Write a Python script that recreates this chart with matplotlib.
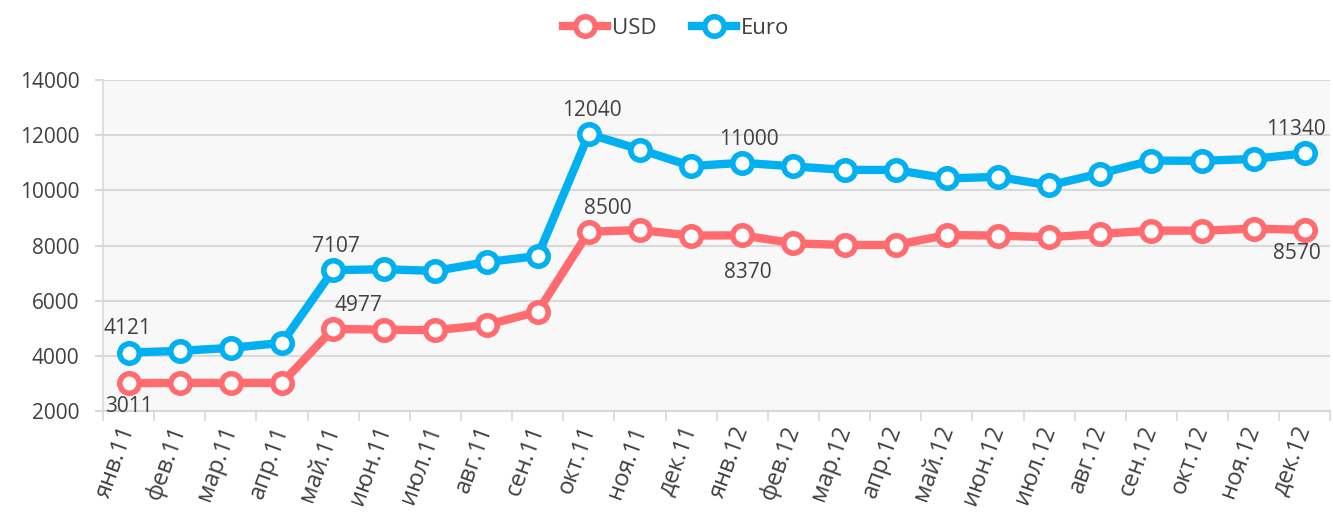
import numpy as np
import matplotlib
matplotlib.use('Agg')
import matplotlib.pyplot as plt
import matplotlib.transforms as mtransforms

plt.rcParams['font.family'] = ['Open Sans', 'DejaVu Sans']

months = ['янв.11', 'фев.11', 'мар.11', 'апр.11', 'май.11', 'июн.11', 'июл.11', 'авг.11',
          'сен.11', 'окт.11', 'ноя.11', 'дек.11', 'янв.12', 'фев.12', 'мар.12', 'апр.12',
          'май.12', 'июн.12', 'июл.12', 'авг.12', 'сен.12', 'окт.12', 'ноя.12', 'дек.12']
usd = [3011, 3020, 3020, 3020, 4977, 4950, 4930, 5120, 5600, 8500, 8560, 8360,
       8370, 8080, 8020, 8020, 8380, 8360, 8300, 8420, 8540, 8540, 8610, 8570]
euro = [4121, 4180, 4290, 4470, 7107, 7140, 7080, 7400, 7620, 12040, 11480, 10880,
        11000, 10870, 10740, 10740, 10430, 10490, 10180, 10610, 11080, 11070, 11140, 11340]

# labelled points: index -> (dx, dy) offset in points
usd_labels = {0: (0, -17), 4: (18, 17), 9: (14, 17), 12: (4, -27), 23: (-6, -17)}
euro_labels = {0: (-1, 17), 4: (2, 17), 9: (2, 17), 12: (5, 17), 23: (-6, 17)}

red = '#ff6b6f'
blue = '#00b0f0'
txt = '#404040'
fs = 15

fig = plt.figure(figsize=(13.33, 5.22), dpi=100)
ax = fig.add_axes([0.0773, 0.2126, 0.9207, 0.6341])
ax.set_facecolor('#f8f8f8')

x = np.arange(len(months))
ax.plot(x, usd, color=red, lw=6, marker='o', ms=14, mfc='white', mec=red, mew=4,
        label='USD', solid_joinstyle='round', zorder=3)
ax.plot(x, euro, color=blue, lw=6, marker='o', ms=14, mfc='white', mec=blue, mew=4,
        label='Euro', solid_joinstyle='round', zorder=3)

for i, (dx, dy) in usd_labels.items():
    ax.annotate(str(usd[i]), (x[i], usd[i]), xytext=(dx, dy), textcoords='offset points',
                ha='center', va='center', fontsize=fs, color=txt, zorder=4)
for i, (dx, dy) in euro_labels.items():
    ax.annotate(str(euro[i]), (x[i], euro[i]), xytext=(dx, dy), textcoords='offset points',
                ha='center', va='center', fontsize=fs, color=txt, zorder=4)

ax.set_xlim(-0.5, len(months) - 0.5)
ax.set_ylim(2000, 14000)
ax.set_yticks(range(2000, 14001, 2000))
ax.set_yticklabels([str(v) for v in range(2000, 14001, 2000)], fontsize=fs, color=txt)
ax.yaxis.grid(True, color='#d9d9d9', lw=1.5)
ax.set_axisbelow(True)

ax.set_xticks(x)
ax.set_xticklabels(months, rotation=70, ha='right', va='center', rotation_mode='anchor',
                   fontsize=17, color=txt)
shift = mtransforms.ScaledTranslation(11 / 100, 0, fig.dpi_scale_trans)
for lab in ax.get_xticklabels():
    lab.set_transform(lab.get_transform() + shift)
ax.tick_params(axis='x', length=0, pad=11)
ax.set_xticks(np.arange(-0.5, len(months), 1), minor=True)
ax.tick_params(axis='x', which='minor', length=7, color='#d9d9d9', width=1.2)
ax.tick_params(axis='y', length=6, color='#d9d9d9', width=1.5, pad=11)

for s in ['top', 'right']:
    ax.spines[s].set_visible(False)
ax.spines['left'].set_color('#d9d9d9')
ax.spines['bottom'].set_color('#d9d9d9')
ax.spines['left'].set_linewidth(1.2)
ax.spines['bottom'].set_linewidth(1.5)

leg = fig.legend(loc='center', bbox_to_anchor=(0.507, 0.945), ncol=2, frameon=False,
                 fontsize=16, handlelength=2.0, columnspacing=1.6, handletextpad=0.2)
for t in leg.get_texts():
    t.set_color(txt)

fig.savefig('out.png', dpi=100)
